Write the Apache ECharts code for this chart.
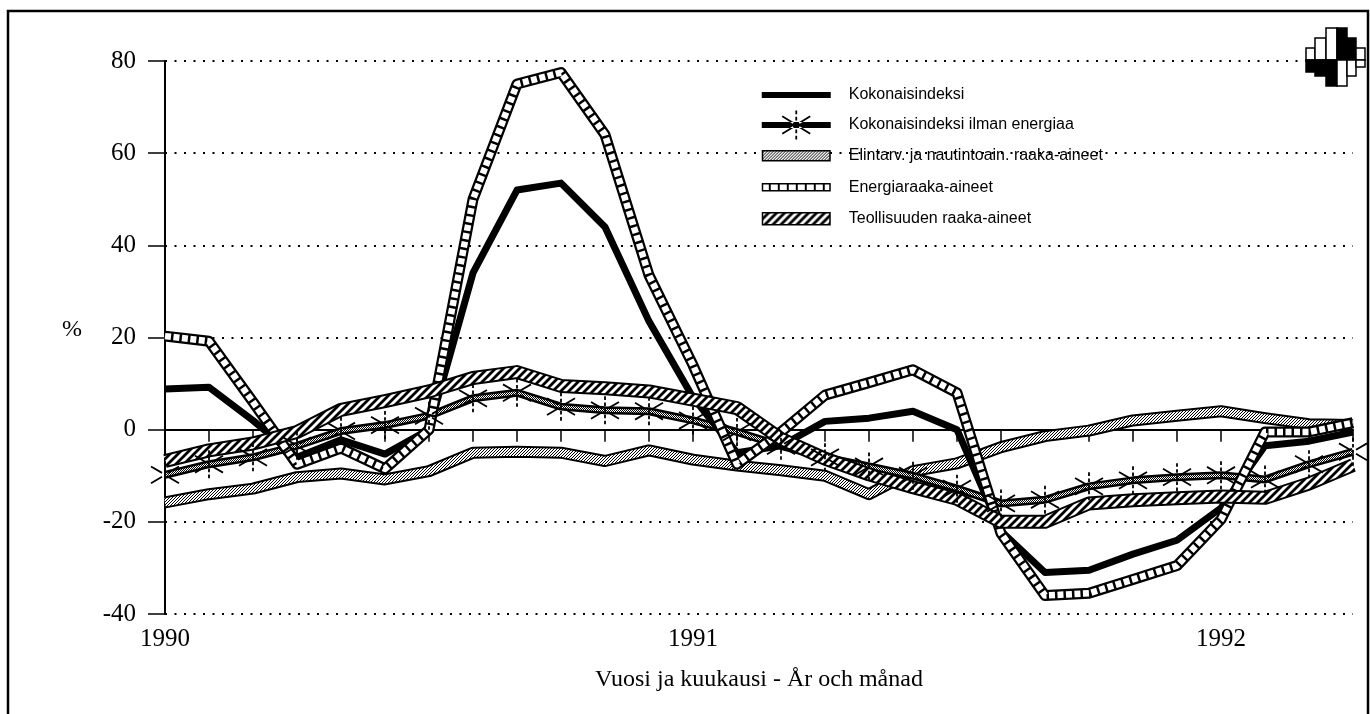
<!DOCTYPE html>
<html><head><meta charset="utf-8">
<script src="https://cdn.jsdelivr.net/npm/echarts/dist/echarts.min.js"></script>
<style>html,body{margin:0;padding:0;background:#fff}#c{width:1370px;height:714px}</style>
</head><body><div id="c"></div>
<script>
// ---- data (monthly, Jan 1990 – Apr 1992), % change ----
const months = ['1990-01','1990-02','1990-03','1990-04','1990-05','1990-06','1990-07','1990-08','1990-09','1990-10','1990-11','1990-12',
                '1991-01','1991-02','1991-03','1991-04','1991-05','1991-06','1991-07','1991-08','1991-09','1991-10','1991-11','1991-12',
                '1992-01','1992-02','1992-03','1992-04'];
const kokonaisindeksi = [8.8, 9.2, 2, -6, -2.2, -5.3, 0, 34, 52, 53.5, 44, 23.5, 7, -5, -3.5, 1.8, 2.5, 4, 0, -22, -31, -30.5, -27, -24, -17, -3.5, -2.5, -0.5];
const ilmanEnergiaa = [-9.8, -7.5, -6, -3.5, -0.3, 1, 3, 6.8, 8, 5, 4.2, 4, 2, -0.5, -3.5, -6, -8, -10, -12.8, -16, -15.2, -12.3, -11, -10.3, -9.9, -10.8, -7.5, -4.8];
const elintarv = [-15.8, -14, -12.8, -10.3, -9.5, -10.8, -9, -5, -4.8, -5, -6.8, -4.5, -6.5, -7.8, -8.8, -10, -14, -9, -7.3, -3.8, -1.4, -0.2, 2, 3, 4, 2.5, 1.2, 1];
const energia = [20.3, 19.2, 6, -7.5, -4, -8.5, 0, 50, 75, 77.5, 64, 33.5, 14, -7.5, -0.5, 7.5, 10.2, 13, 8, -22.5, -36, -35.5, -32.5, -29.5, -19.5, -0.5, -0.5, 1.5];
const teollisuus = [-6.8, -4.5, -3, -0.5, 4.3, 6.2, 8.3, 11.2, 12.5, 9.5, 9, 8.3, 6.5, 4.7, -2, -6.3, -9.7, -12.5, -15, -20, -20, -16, -15.3, -14.9, -14.5, -14.8, -11.7, -7.7];
const seriesNames = ['Kokonaisindeksi', 'Kokonaisindeksi ilman energiaa', 'Elintarv. ja nautintoain. raaka-aineet', 'Energiaraaka-aineet', 'Teollisuuden raaka-aineet'];
const yMin = -40, yMax = 80, yStep = 20;
const xTitle = 'Vuosi ja kuukausi - År och månad';
const yUnit = '%';

// ---- patterns ----
function pat(w, h, draw) {
  const c = document.createElement('canvas'); c.width = w; c.height = h;
  const g = c.getContext('2d');
  g.fillStyle = '#fff'; g.fillRect(0, 0, w, h);
  g.fillStyle = '#000'; g.strokeStyle = '#000';
  draw(g);
  return { image: c, repeat: 'repeat' };
}
const stipple = pat(3, 3, g => { g.fillRect(0,0,1,1); g.fillRect(1,2,1,1); g.fillRect(2,1,1,1); });
const hatch = pat(8, 8, g => { g.lineWidth = 2.8; g.beginPath();
  g.moveTo(-1,9); g.lineTo(9,-1); g.moveTo(-1,1); g.lineTo(1,-1); g.moveTo(7,9); g.lineTo(9,7); g.stroke(); });
const checker = pat(2, 2, g => { g.fillRect(0,0,1,1); g.fillRect(1,1,1,1); });
const ladder = pat(9, 8, g => { g.fillRect(7,0,2,8); });

// ---- symbol paths ----
function seg(x1, y1, x2, y2, t) {
  const dx = x2 - x1, dy = y2 - y1, L = Math.hypot(dx, dy), nx = -dy / L * t / 2, ny = dx / L * t / 2;
  const f = v => v.toFixed(2);
  return `M${f(x1+nx)} ${f(y1+ny)} L${f(x2+nx)} ${f(y2+ny)} L${f(x2-nx)} ${f(y2-ny)} L${f(x1-nx)} ${f(y1-ny)} Z `;
}
function asterisk(ox, oy, w, h, t) {
  const cx = ox + w / 2; let p = '';
  const d = h * 0.13, gap = (h - 5 * d) / 4, hw = t / 2;
  for (let k = 0; k < 5; k++) { const y = oy + k * (d + gap); p += `M${cx-hw} ${y} L${cx+hw} ${y} L${cx+hw} ${y+d} L${cx-hw} ${y+d} Z `; }
  p += seg(ox + 1, oy + h*0.2, ox + w*0.4, oy + h*0.43, t);
  p += seg(ox + w*0.6, oy + h*0.57, ox + w - 1, oy + h*0.8, t);
  p += seg(ox + 1, oy + h*0.8, ox + w*0.4, oy + h*0.57, t);
  p += seg(ox + w*0.6, oy + h*0.43, ox + w - 1, oy + h*0.2, t);
  return p;
}
const starSymbol = 'path://' + asterisk(0, 0, 30, 28, 1.8) + 'M0 0 L0 0 M30 28 L30 28';
const corners = ' M0 0 L0 0 M69 30 L69 30';
const iconTotal = 'path://M0 12 L69 12 L69 18 L0 18 Z' + corners;
const iconStar = 'path://M0 12 L69 12 L69 18 L0 18 Z ' + asterisk(19.5, 0.5, 30, 29, 1.8) + corners;
const iconFood = 'path://M0.75 10 L68.25 10 L68.25 20 L0.75 20 Z' + corners;
const iconEnergy = 'path://M0.75 11.5 L68.25 11.5 L68.25 18.5 L0.75 18.5 Z' + corners;
const iconTeoll = 'path://M0.75 9 L68.25 9 L68.25 21 L0.75 21 Z' + corners;

function L(name, data, lineStyle, extra) {
  return Object.assign({ type: 'line', name, data, symbol: 'none', silent: true, animation: false,
    lineStyle: Object.assign({ join: 'round' }, lineStyle) }, extra || {});
}
const [nTotal, nStar, nFood, nEnergy, nTeoll] = seriesNames;

const chart = echarts.init(document.getElementById('c'), null, { renderer: 'canvas' });
const serif = 'Liberation Serif';
const logoCols = [[1306, 9, 48, 72, '#fff', '#000'], [1315, 11, 38, 76, '#fff', '#000'], [1326, 11, 28, 86, '#fff', '#000'],
                  [1337, 10, 28, 86, '#000', '#fff'], [1347, 9, 38, 76, '#000', '#fff'], [1356, 9, 48, 67, '#fff', '#fff']];
const logo = [];
logoCols.forEach(([x, w, t, b, up, lo]) => {
  logo.push({ type: 'rect', shape: { x, y: t, width: w, height: 60 - t }, style: { fill: up, stroke: '#000', lineWidth: 1.5 }, z: 50 });
  logo.push({ type: 'rect', shape: { x, y: 60, width: w, height: b - 60 }, style: { fill: lo, stroke: '#000', lineWidth: 1.5 }, z: 50 });
});

chart.setOption({
  animation: false,
  backgroundColor: '#fff',
  grid: { left: 165, right: 17, top: 61, bottom: 100, containLabel: false, outerBoundsMode: 'none' },
  legend: {
    orient: 'vertical', left: 761, top: 80, padding: 0, itemWidth: 69, itemHeight: 30, itemGap: 0,
    selectedMode: false,
    textStyle: { fontFamily: 'Liberation Sans', fontSize: 16, color: '#000', padding: [0, 0, 0, 13] },
    data: [
      { name: nTotal, icon: iconTotal, itemStyle: { color: '#000', borderWidth: 0 } },
      { name: nStar, icon: iconStar, itemStyle: { color: '#000', borderWidth: 0 } },
      { name: nFood, icon: iconFood, itemStyle: { color: stipple, borderColor: '#000', borderWidth: 1.5 } },
      { name: nEnergy, icon: iconEnergy, itemStyle: { color: ladder, borderColor: '#000', borderWidth: 1.5 } },
      { name: nTeoll, icon: iconTeoll, itemStyle: { color: hatch, borderColor: '#000', borderWidth: 1.5 } }
    ]
  },
  xAxis: {
    type: 'category', data: months, boundaryGap: false,
    axisLine: { lineStyle: { color: '#000', width: 2 } },
    axisTick: { show: true, interval: 0, length: 12, lineStyle: { color: '#000', width: 1.5 } },
    axisLabel: { interval: 0, formatter: v => v.endsWith('-01') ? v.slice(0, 4) : '', color: '#000', fontFamily: serif, fontSize: 25, margin: 13 },
    splitLine: { show: false },
    name: xTitle, nameLocation: 'middle', nameGap: 54,
    nameTextStyle: { color: '#000', fontFamily: serif, fontSize: 24 }
  },
  yAxis: {
    type: 'value', min: yMin, max: yMax, interval: yStep,
    axisLine: { show: true, lineStyle: { color: '#000', width: 2 } },
    axisTick: { show: true, length: 17, lineStyle: { color: '#000', width: 1.5 } },
    axisLabel: { color: '#000', fontFamily: serif, fontSize: 25, margin: 29, padding: [0, 0, 14, 0] },
    splitLine: { show: true, lineStyle: { color: '#000', width: 2, type: [2, 7.5] } }
  },
  graphic: [
    { type: 'rect', shape: { x: 8, y: 11, width: 1360, height: 712 }, style: { fill: 'none', stroke: '#000', lineWidth: 2.5 }, z: 60, silent: true },
    { type: 'text', left: 62, top: 318, style: { text: yUnit, fontFamily: serif, fontSize: 24, fill: '#000' }, z: 60 }
  ].concat(logo),
  series: [
    L(nFood, elintarv, { color: '#000', width: 12 }),
    L(nFood, elintarv, { color: stipple, width: 8 }),
    L(nStar, ilmanEnergiaa, { color: '#000', width: 8 }),
    L(nStar, ilmanEnergiaa, { color: checker, width: 3 },
      { symbol: starSymbol, symbolSize: [30, 28], showSymbol: true, showAllSymbol: true, itemStyle: { color: '#000', borderWidth: 0 } }),
    L(nTotal, kokonaisindeksi, { color: '#000', width: 7 }),
    L(nEnergy, energia, { color: '#000', width: 11 }),
    L(nEnergy, energia, { color: '#fff', width: 6.5, type: [6, 2.5] }),
    L(nTeoll, teollisuus, { color: '#000', width: 14 }),
    L(nTeoll, teollisuus, { color: hatch, width: 10 })
  ]
});
</script>
</body></html>
